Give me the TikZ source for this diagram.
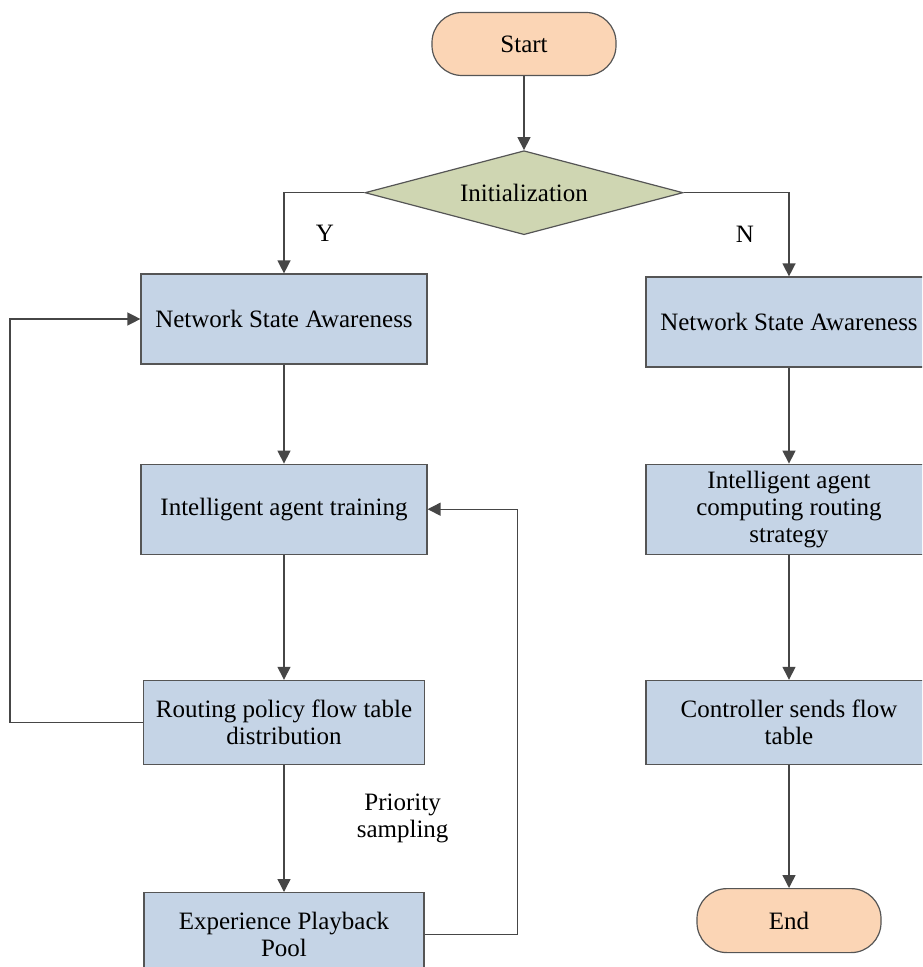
\documentclass[tikz,border=0pt]{standalone}
\usepackage{fontspec}
\setmainfont{Liberation Serif}
\usepackage{tikz}
\usetikzlibrary{shapes.geometric, arrows.meta, positioning}
\definecolor{fcpeach}{RGB}{251,213,181}
\definecolor{fcolive}{RGB}{207,214,178}
\definecolor{fcblue}{RGB}{197,212,230}
\definecolor{fcedge}{RGB}{85,85,85}
\definecolor{fcline}{RGB}{70,70,70}
\newcommand{\fcfont}{\fontsize{12.5}{13.5}\selectfont}
\tikzset{
  terminal/.style = {rectangle, rounded corners=15pt, draw=fcedge, line width=0.6pt,
                     fill=fcpeach, align=center, minimum width=92pt,
                     minimum height=31.5pt, font=\fcfont, inner sep=2pt},
  decision/.style = {diamond, draw=fcedge, line width=0.6pt, fill=fcolive,
                     align=center, aspect=3.8, minimum width=159pt, minimum height=42pt,
                     font=\fcfont, inner sep=0pt},
  process/.style  = {rectangle, draw=fcedge, line width=0.6pt, fill=fcblue,
                     align=center, minimum width=143pt, minimum height=45pt,
                     font=\fcfont, inner sep=2pt},
  flow/.style     = {-{Triangle[length=6.5pt,width=6.5pt]}, line width=0.7pt, draw=fcline},
  flowlab/.style  = {font=\fcfont, align=center, inner sep=1pt},
}

\begin{document}
\begin{tikzpicture}[x=0.5pt, y=-0.5pt]
\clip (0,0) rectangle (922,967);

% ---------- top ----------
\node[terminal] (start) at (524,44) {Start};
\node[decision, below=37pt of start] (init) {Initialization};

% ---------- left column (Y) ----------
\node[process] (nsaL) at (284,319) {Network State Awareness};
\node[process, below=49.5pt of nsaL] (train) {Intelligent agent training};
\node[process, below=62.5pt of train, minimum width=140.5pt, minimum height=42pt] (route) {Routing policy flow table\\distribution};
\node[process, below=63.5pt of route, minimum width=140pt, minimum height=42pt] (pool) {Experience Playback\\Pool};

% ---------- right column (N) ----------
\node[process] (nsaR) at (789,322) {Network State Awareness};
\node[process, below=48pt of nsaR] (compute) {Intelligent agent\\computing routing\\strategy};
\node[process, below=62.5pt of compute, minimum height=42pt] (ctrl) {Controller sends flow\\table};
\node[terminal, below=61.5pt of ctrl, minimum height=32pt] (end) {End};

% ---------- edges ----------
\draw[flow] (start) -- (init);
\draw[flow] (init.west) -| node[flowlab, pos=0.75, xshift=20.5pt]{Y} (nsaL);
\draw[flow] (init.east) -| node[flowlab, pos=0.75, xshift=-22pt]{N} (nsaR);

\draw[flow] (nsaL) -- (train);
\draw[flow] (train) -- (route);
\draw[flow] (route) -- (pool);
\draw[flow] (route.west) -- ++(-133,0) |- (nsaL.west);
\draw[flow] (pool.east) -- ++(93,0) |- node[flowlab, pos=0.136, xshift=-57.5pt]{Priority\\sampling} (train.east);

\draw[flow] (nsaR) -- (compute);
\draw[flow] (compute) -- (ctrl);
\draw[flow] (ctrl) -- (end);

\end{tikzpicture}
\end{document}
